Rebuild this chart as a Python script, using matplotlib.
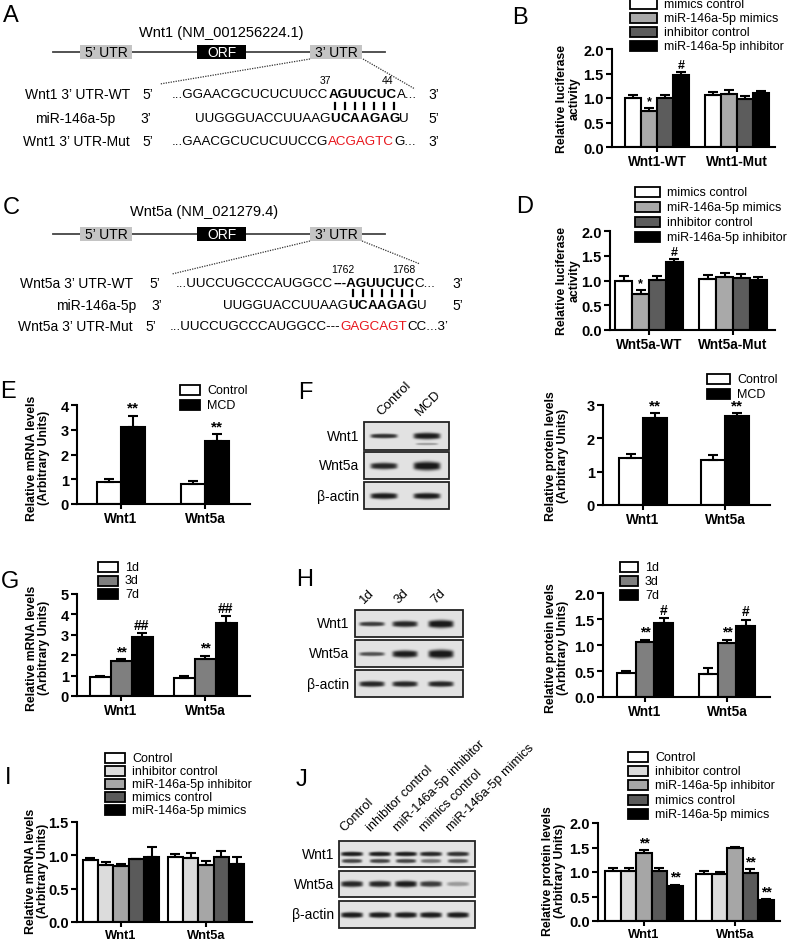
import numpy as np
import matplotlib
matplotlib.use('Agg')
import matplotlib.pyplot as plt
from matplotlib.patches import Rectangle

plt.rcParams['font.family'] = ['Liberation Sans', 'DejaVu Sans']

# ---------------- data ----------------
luc_series = ['mimics control', 'miR-146a-5p mimics', 'inhibitor control', 'miR-146a-5p inhibitor']
luc_colors = ['white', '#a9a9a9', '#5c5c5c', 'black']
b_groups = ['Wnt1-WT', 'Wnt1-Mut']
b_vals = [[1.00, 1.07], [0.74, 1.09], [1.01, 0.98], [1.47, 1.10]]
b_errs = [[0.06, 0.05], [0.06, 0.07], [0.06, 0.06], [0.06, 0.05]]
b_marks = [['', ''], ['*', ''], ['', ''], ['#', '']]
d_groups = ['Wnt5a-WT', 'Wnt5a-Mut']
d_vals = [[1.00, 1.04], [0.73, 1.07], [1.02, 1.06], [1.37, 1.01]]
d_errs = [[0.10, 0.08], [0.07, 0.08], [0.08, 0.08], [0.07, 0.06]]
d_marks = [['', ''], ['*', ''], ['', ''], ['#', '']]

genes = ['Wnt1', 'Wnt5a']
mcd_series = ['Control', 'MCD']
mcd_colors = ['white', 'black']
e_vals = [[0.88, 0.82], [3.12, 2.55]]
e_errs = [[0.12, 0.12], [0.45, 0.27]]
e_marks = [['', ''], ['**', '**']]
f_vals = [[1.40, 1.35], [2.60, 2.68]]
f_errs = [[0.13, 0.15], [0.15, 0.08]]
f_marks = [['', ''], ['**', '**']]

time_series = ['1d', '3d', '7d']
time_colors = ['white', '#7f7f7f', 'black']
g_vals = [[0.95, 0.88], [1.72, 1.80], [2.90, 3.58]]
g_errs = [[0.04, 0.08], [0.07, 0.18], [0.20, 0.35]]
g_marks = [['', ''], ['**', '**'], ['##', '##']]
h_vals = [[0.46, 0.45], [1.05, 1.04], [1.43, 1.37]]
h_errs = [[0.04, 0.10], [0.05, 0.06], [0.08, 0.12]]
h_marks = [['', ''], ['**', '**'], ['#', '#']]

tr_series = ['Control', 'inhibitor control', 'miR-146a-5p inhibitor', 'mimics control', 'miR-146a-5p mimics']
tr_colors = ['white', '#dcdcdc', '#a6a6a6', '#5a5a5a', 'black']
i_vals = [[0.93, 0.97], [0.85, 0.96], [0.84, 0.85], [0.94, 0.98], [0.98, 0.87]]
i_errs = [[0.03, 0.05], [0.05, 0.07], [0.03, 0.06], [0.01, 0.08], [0.14, 0.10]]
i_marks = [['', ''], ['', ''], ['', ''], ['', ''], ['', '']]
j_vals = [[1.02, 0.95], [1.02, 0.95], [1.39, 1.48], [1.03, 0.97], [0.71, 0.42]]
j_errs = [[0.07, 0.08], [0.06, 0.04], [0.06, 0.03], [0.05, 0.09], [0.03, 0.02]]
j_marks = [['', ''], ['', ''], ['**', ''], ['', '**'], ['**', '**']]

# blot band intensities (per lane) and band thickness
f_lanes = ['Control', 'MCD']
f_blot = {'Wnt1': [0.85, 0.95], 'Wnt5a': [0.9, 1.0], 'β-actin': [0.95, 0.95]}
f_thick = {'Wnt1': [0.22, 0.32], 'Wnt5a': [0.32, 0.42], 'β-actin': [0.3, 0.3]}
h_lanes = ['1d', '3d', '7d']
h_blot = {'Wnt1': [0.8, 0.9, 1.0], 'Wnt5a': [0.7, 0.95, 1.0], 'β-actin': [0.9, 0.9, 0.9]}
h_thick = {'Wnt1': [0.22, 0.3, 0.38], 'Wnt5a': [0.2, 0.35, 0.42], 'β-actin': [0.28, 0.28, 0.28]}
j_lanes = tr_series
j_blot = {'Wnt1': [0.95, 0.95, 0.95, 0.9, 0.85], 'Wnt5a': [0.9, 0.9, 0.95, 0.8, 0.35],
          'β-actin': [0.95, 0.95, 0.95, 0.95, 0.95]}
j_thick = {'Wnt1': [0.22] * 5, 'Wnt5a': [0.3, 0.3, 0.32, 0.28, 0.22], 'β-actin': [0.28] * 5}
j_blot_lower = [0.75, 0.75, 0.75, 0.5, 0.65]

# ---------------- figure ----------------
W, H = 787, 945
fig = plt.figure(figsize=(W / 100, H / 100), dpi=100)
ax0 = fig.add_axes([0, 0, 1, 1])
ax0.set_xlim(0, W)
ax0.set_ylim(H, 0)
ax0.axis('off')

LW = 1.5


def letter(x, y, s):
    ax0.text(x, y, s, ha='center', va='center', fontsize=17)


def ylab(x, y, s):
    ax0.text(x, y, s, rotation=90, ha='center', va='center', fontsize=8.8,
             fontweight='bold', multialignment='center', linespacing=1.1)


def legend(x, y0, dy, names, colors, bw=20, bh=10):
    for i, (n, c) in enumerate(zip(names, colors)):
        y = y0 + i * dy
        ax0.add_patch(Rectangle((x, y - bh / 2), bw, bh, fc=c, ec='black', lw=1.3))
        ax0.text(x + bw + 7, y, n, va='center', ha='left', fontsize=9)


def bar_panel(box, centers, groups, vals, errs, colors, width, ymax, yticks, fmt, marks, msize=9,
              xfs=9.8):
    left, top, right, bottom = box
    ax = fig.add_axes([left / W, 1 - bottom / H, (right - left) / W, (bottom - top) / H])
    ax.set_facecolor('none')
    c1, c2 = centers
    ax.set_xlim((left - c1) / (c2 - c1), (right - c1) / (c2 - c1))
    ax.set_ylim(0, ymax)
    n = len(vals)
    x = np.arange(len(groups))
    for i in range(n):
        xi = x + (i - (n - 1) / 2) * width
        ax.bar(xi, vals[i], width, color=colors[i], edgecolor='black', linewidth=LW, zorder=2)
        ax.errorbar(xi, vals[i], yerr=[np.zeros(len(groups)), errs[i]], fmt='none', ecolor='black',
                    elinewidth=LW, capsize=3.5, capthick=LW, zorder=3)
        for j, m in enumerate(marks[i]):
            if m:
                ax.text(xi[j], vals[i][j] + errs[i][j] + 0.01 * ymax, m, ha='center', va='bottom',
                        fontsize=msize, fontweight='bold')
    for s in ['top', 'right']:
        ax.spines[s].set_visible(False)
    for s in ['left', 'bottom']:
        ax.spines[s].set_linewidth(LW)
    ax.set_yticks(yticks)
    ax.set_yticklabels([fmt.format(v) for v in yticks], fontweight='bold', fontsize=10.5)
    ax.set_xticks(x)
    ax.set_xticklabels(groups, fontweight='bold', fontsize=xfs)
    ax.tick_params(direction='out', length=4, width=LW, pad=2)
    ax.tick_params(axis='x', length=3.5, pad=1.5)
    return ax


# ---------------- gene diagrams ----------------
SFS = 9.6


def gene_diagram(title, tx, ty, ly):
    ax0.text(tx, ty, title, ha='center', va='center', fontsize=10.5)
    ax0.plot([53, 385], [ly, ly], color='#444444', lw=1.3, zorder=1)
    for (x0, x1, lab, fc, tc) in [(80, 132, '5’ UTR', '#c4c4c4', 'black'),
                                  (197, 246, 'ORF', 'black', 'white'),
                                  (310, 362, '3’ UTR', '#c4c4c4', 'black')]:
        ax0.add_patch(Rectangle((x0, ly - 7), x1 - x0, 14, fc=fc, ec='none', zorder=3))
        ax0.text((x0 + x1) / 2, ly, lab, ha='center', va='center', color=tc, fontsize=10, zorder=4)


def seq_row(x, y, parts, fs=SFS):
    texts = []
    t = None
    for txt, col, wt in parts:
        if t is None:
            t = ax0.text(x, y, txt, color=col, fontweight=wt, fontsize=fs, ha='left', va='center')
        else:
            t = ax0.annotate(txt, xy=(1, 0), xycoords=t, ha='left', va='bottom', color=col,
                             fontweight=wt, fontsize=fs)
        texts.append(t)
    return texts


def lbl(x, y, s, ha='right'):
    ax0.text(x, y, s, ha=ha, va='center', fontsize=10)


pair_chars = []

# Panel A
letter(11, 16, 'A')
gene_diagram('Wnt1 (NM_001256224.1)', 221, 33, 53)
ax0.plot([310, 160], [60, 85], ls=(0, (1, 1)), color='#333333', lw=0.9)
ax0.plot([363, 415], [60, 90], ls=(0, (1, 1)), color='#333333', lw=0.9)
ax0.text(325, 81, '37', ha='center', va='center', fontsize=7.5)
ax0.text(387, 81, '44', ha='center', va='center', fontsize=7.5)
yA = [95, 119, 142]
lbl(130, yA[0], 'Wnt1 3’ UTR-WT')
lbl(115, yA[1], 'miR-146a-5p')
lbl(130, yA[2], 'Wnt1 3’ UTR-Mut')
lbl(148, yA[0], '5’', 'center')
lbl(146, yA[1], '3’', 'center')
lbl(148, yA[2], '5’', 'center')
seq_row(172, yA[0], [('...GGAACGCUCUCUUCC', 'black', 'normal'), ('AGUUCUC', 'black', 'bold'),
                     ('A...', 'black', 'normal')])
ts = seq_row(195, yA[1], [('UUGGGUACCUUAAG', 'black', 'normal')] +
             [(c, 'black', 'bold') for c in 'UCAAGAG'] + [('U', 'black', 'normal')])
pair_chars.append((ts[1:8], yA[1]))
seq_row(172, yA[2], [('...GAACGCUCUCUUCCG', 'black', 'normal'), ('ACGAGTC', '#e8141b', 'normal'),
                     ('G...', 'black', 'normal')])
lbl(434, yA[0], '3’', 'center')
lbl(434, yA[1], '5’', 'center')
lbl(434, yA[2], '3’', 'center')

# Panel C
letter(11, 208, 'C')
gene_diagram('Wnt5a (NM_021279.4)', 204, 212, 235)
ax0.plot([310, 172], [242, 275], ls=(0, (1, 1)), color='#333333', lw=0.9)
ax0.plot([362, 420], [242, 265], ls=(0, (1, 1)), color='#333333', lw=0.9)
ax0.text(343, 270, '1762', ha='center', va='center', fontsize=7.5)
ax0.text(404, 270, '1768', ha='center', va='center', fontsize=7.5)
yC = [284, 306, 327]
lbl(133, yC[0], 'Wnt5a 3’ UTR-WT')
lbl(136, yC[1], 'miR-146a-5p')
lbl(133, yC[2], 'Wnt5a 3’ UTR-Mut')
lbl(155, yC[0], '5’', 'center')
lbl(157, yC[1], '3’', 'center')
lbl(151, yC[2], '5’', 'center')
seq_row(176, yC[0], [('...UUCCUGCCCAUGGCC', 'black', 'normal'), ('---AGUUCUC', 'black', 'bold'),
                     ('C...', 'black', 'normal')])
ts = seq_row(223, yC[1], [('UUGGUACCUUAAG', 'black', 'normal')] +
             [(c, 'black', 'bold') for c in 'UCAAGAG'] + [('U', 'black', 'normal')])
pair_chars.append((ts[1:8], yC[1]))
seq_row(170, yC[2], [('...UUCCUGCCCAUGGCC---', 'black', 'normal'), ('GAGCAGT', '#e8141b', 'normal'),
                     ('CC...3’', 'black', 'normal')])
lbl(458, yC[0], '3’', 'center')
lbl(458, yC[1], '5’', 'center')

# ---------------- bar panels ----------------
letter(520, 18, 'B')
bar_panel((612, 50, 775, 148), (657, 737), b_groups, b_vals, b_errs, luc_colors, 0.2, 2.0,
          [0.0, 0.5, 1.0, 1.5, 2.0], '{:.1f}', b_marks)
legend(630, 5, 14, luc_series, luc_colors, bw=27)
ylab(568, 99, 'Relative luciferase\nactivity')

letter(525, 207, 'D')
bar_panel((610, 232, 775, 331), (649, 733), d_groups, d_vals, d_errs, luc_colors, 0.2, 2.0,
          [0.0, 0.5, 1.0, 1.5, 2.0], '{:.1f}', d_marks)
legend(635, 193, 15, luc_series, luc_colors, bw=25)
ylab(568, 281, 'Relative luciferase\nactivity')

letter(8, 392, 'E')
bar_panel((77, 406, 250, 505), (121, 205), genes, e_vals, e_errs, mcd_colors, 0.29, 4,
          [0, 1, 2, 3, 4], '{:d}', e_marks, msize=11)
legend(180, 391, 15, mcd_series, mcd_colors, bw=20)
ylab(38, 458, 'Relative mRNA levels\n(Arbitrary Units)')

letter(305, 393, 'F')
bar_panel((603, 406, 770, 506), (643, 725), genes, f_vals, f_errs, mcd_colors, 0.29, 3,
          [0, 1, 2, 3], '{:d}', f_marks, msize=11)
legend(707, 380, 15, mcd_series, mcd_colors, bw=23)
ylab(557, 456, 'Relative protein levels\n(Arbitrary Units)')

letter(10, 582, 'G')
bar_panel((77, 595, 250, 697), (121, 205), genes, g_vals, g_errs, time_colors, 0.25, 5,
          [0, 1, 2, 3, 4, 5], '{:d}', g_marks, msize=10)
legend(98, 568, 13.5, time_series, time_colors, bw=20)
ylab(38, 648, 'Relative mRNA levels\n(Arbitrary Units)')

letter(305, 580, 'H')
bar_panel((603, 594, 770, 698), (645, 727), genes, h_vals, h_errs, time_colors, 0.23, 2.0,
          [0.0, 0.5, 1.0, 1.5, 2.0], '{:.1f}', h_marks, msize=10)
legend(620, 568, 14, time_series, time_colors, bw=18)
ylab(557, 648, 'Relative protein levels\n(Arbitrary Units)')

letter(8, 778, 'I')
bar_panel((77, 823, 252, 923), (121, 206), genes, i_vals, i_errs, tr_colors, 0.18, 1.5,
          [0.0, 0.5, 1.0, 1.5], '{:.1f}', i_marks, xfs=9.3)
legend(105, 759, 13, tr_series, tr_colors, bw=20)
ylab(37, 871, 'Relative mRNA levels\n(Arbitrary Units)')

letter(302, 780, 'J')
bar_panel((598, 824, 780, 922), (644, 735), genes, j_vals, j_errs, tr_colors, 0.17, 2.0,
          [0.0, 0.5, 1.0, 1.5, 2.0], '{:.1f}', j_marks, msize=10, xfs=9.3)
legend(628, 758, 14.2, tr_series, tr_colors, bw=20)
ylab(554, 871, 'Relative protein levels\n(Arbitrary Units)')


# ---------------- blots ----------------
def band(cx, cy, bw, bh, inten, sig=0.3):
    ny, nx = 30, 60
    yy = np.linspace(-1, 1, ny)[:, None]
    xx = np.linspace(-1, 1, nx)[None, :]
    xprof = np.exp(-(xx / 0.85) ** 8)
    half = sig * (0.75 + 0.25 * np.exp(-(xx / 0.7) ** 2))
    prof = np.exp(-(np.abs(yy) / half) ** 3) * xprof
    img = np.zeros((ny, nx, 4))
    img[..., :3] = 0.1
    img[..., 3] = np.clip(inten * prof * 1.05, 0, 1)
    ax0.imshow(img, extent=(cx - bw / 2, cx + bw / 2, cy + bh / 2, cy - bh / 2),
               interpolation='bilinear', zorder=5)


def blot(x0, x1, rows, labels, lane_x, data, thick, lab_x, bw, bh=22):
    for (ya, yb), lab in zip(rows, labels):
        ax0.add_patch(Rectangle((x0, ya), x1 - x0, yb - ya, fc='#e2e2e2', ec='#222222', lw=1.3, zorder=4))
        ax0.text(lab_x, (ya + yb) / 2, lab, ha='right', va='center', fontsize=10)
        for cx, it, th in zip(lane_x, data[lab], thick[lab]):
            band(cx, (ya + yb) / 2, bw, bh, it, sig=th)


def lane_labels(xs, y, names, fs=9):
    for x, n in zip(xs, names):
        ax0.text(x, y, n, rotation=45, rotation_mode='anchor', ha='left', va='bottom', fontsize=fs)


# F blot
blot(364, 449, [(423, 451), (453, 480), (483, 510)], ['Wnt1', 'Wnt5a', 'β-actin'],
     [384, 427], f_blot, f_thick, 359, 32)
band(427, 445, 26, 8, 0.35, sig=0.3)
lane_labels([383, 422], 418, f_lanes, fs=9.5)

# H blot
blot(355, 463, [(611, 638), (641, 668), (671, 698)], ['Wnt1', 'Wnt5a', 'β-actin'],
     [372, 405, 441], h_blot, h_thick, 349, 30)
lane_labels([366, 401, 437], 606, h_lanes, fs=9.5)

# J blot
rowsJ = [(842, 868), (872, 898), (902, 929)]
j_x = [352, 380, 406, 431, 458]
blot(339, 475, rowsJ, ['Wnt1', 'Wnt5a', 'β-actin'], j_x, j_blot, j_thick, 334, 26)
for cx, it in zip(j_x, j_blot_lower):
    band(cx, 862, 24, 10, it, sig=0.45)
lane_labels([346, 373, 400, 426, 453], 834, j_lanes, fs=9.3)

ax0.set_xlim(0, W)
ax0.set_ylim(H, 0)
ax0.set_aspect('auto')

# pairing marks
fig.canvas.draw()
r = fig.canvas.get_renderer()
inv = ax0.transData.inverted()
for chars, yrow in pair_chars:
    for t in chars:
        bb = t.get_window_extent(r)
        cx = inv.transform(((bb.x0 + bb.x1) / 2, 0))[0]
        ax0.plot([cx, cx], [yrow - 15, yrow - 9], color='black', lw=1.6)

fig.savefig('out.png', dpi=100)
